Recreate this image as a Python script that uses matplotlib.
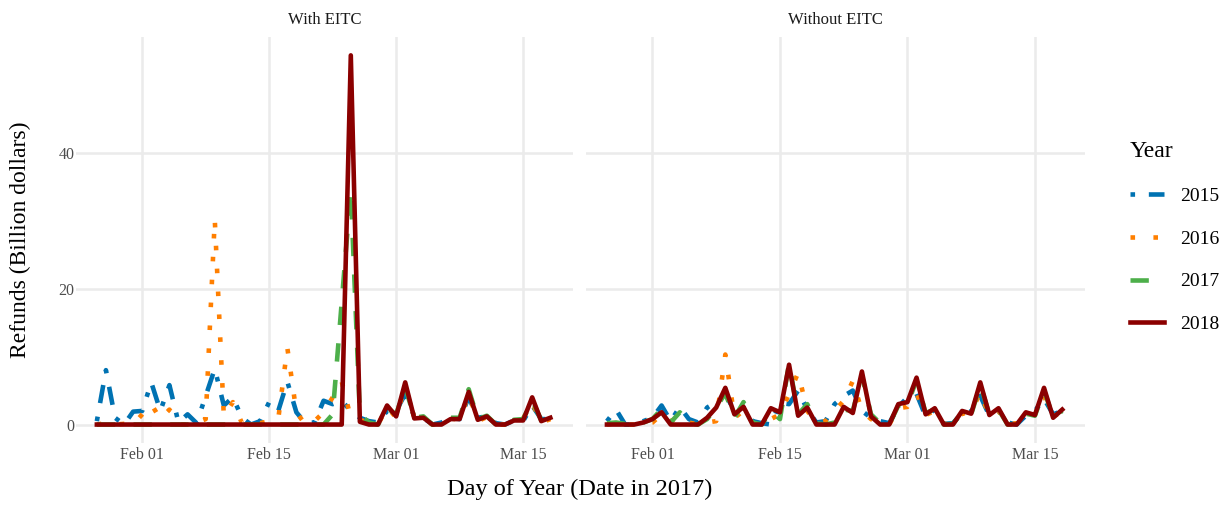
import numpy as np
import pandas as pd
import matplotlib
matplotlib.use("Agg")
import matplotlib.pyplot as plt
import matplotlib.dates as mdates
from matplotlib.lines import Line2D

plt.rcParams['font.family'] = ['Liberation Serif', 'DejaVu Serif']

# daily refunds, aligned on the 2017 calendar (Jan 27 .. Mar 18)
days = pd.date_range('2017-01-27', '2017-03-18', freq='D')
years = ['2015', '2016', '2017', '2018']

# With EITC (billion dollars)
eitc_2015 = [0.5, 8.0, 1.0, 0.0, 1.9, 2.0, 6.2, 2.0, 5.8, 0.3,
             1.5, 0.2, 4.2, 8.2, 2.8, 4.0, 1.0, 0.0, 0.5, 3.3,
             2.0, 6.3, 1.8, 0.2, 0.3, 3.5, 3.0, 3.5, 2.0, 1.0,
             0.5, 0.3, 2.0, 2.0, 4.5, 1.2, 1.0, 0.0, 0.3, 1.0,
             0.8, 4.0, 1.0, 1.2, 0.2, 0.0, 0.6, 0.5, 2.8, 0.8, 0.8]
eitc_2016 = [0.0, 0.2, 0.0, 0.1, 0.0, 1.5, 3.0, 0.8, 2.2, 0.0,
             0.0, 0.3, 0.8, 30.2, 1.2, 3.3, 0.2, 0.0, 0.2, 0.5,
             0.8, 11.3, 1.8, 0.0, 0.5, 1.8, 4.0, 6.3, 1.0, 0.6,
             0.5, 0.0, 2.6, 1.0, 5.8, 1.0, 0.8, 0.0, 0.1, 0.9,
             0.7, 4.5, 0.5, 1.1, 0.0, 0.0, 0.5, 0.9, 3.2, 0.3, 0.8]
eitc_2017 = [0.0, 0.0, 0.0, 0.0, 0.0, 0.0, 0.0, 0.0, 0.0, 0.0,
             0.0, 0.0, 0.0, 0.0, 0.0, 0.0, 0.0, 0.0, 0.0, 0.0,
             0.0, 0.0, 0.0, 0.0, 0.0, 0.0, 1.5, 18.0, 34.5, 1.5,
             0.3, 0.0, 2.4, 1.5, 5.5, 1.0, 1.2, 0.0, 0.2, 1.0,
             1.0, 5.2, 0.8, 1.3, 0.0, 0.1, 0.7, 0.8, 3.6, 0.6, 0.9]
eitc_2018 = [0.0, 0.0, 0.0, 0.0, 0.0, 0.0, 0.0, 0.0, 0.0, 0.0,
             0.0, 0.0, 0.0, 0.0, 0.0, 0.0, 0.0, 0.0, 0.0, 0.0,
             0.0, 0.0, 0.0, 0.0, 0.0, 0.0, 0.0, 0.0, 54.3, 0.4,
             0.0, 0.0, 2.8, 1.2, 6.2, 0.9, 1.0, 0.0, 0.0, 0.8,
             0.8, 4.8, 0.7, 1.2, 0.0, 0.0, 0.6, 0.6, 4.0, 0.5, 1.0]

# Without EITC (billion dollars)
noeitc_2015 = [0.5, 2.2, 0.0, 0.0, 0.5, 1.0, 2.8, 0.5, 2.6, 0.8,
               0.3, 2.5, 3.3, 4.5, 2.0, 2.5, 0.5, 0.2, 0.0, 3.2,
               3.0, 5.0, 2.2, 0.3, 0.5, 3.0, 4.2, 5.0, 2.0, 1.0,
               0.5, 0.2, 2.6, 4.0, 4.5, 1.2, 2.2, 0.1, 0.2, 1.7,
               1.9, 4.2, 1.3, 2.0, 0.3, 0.0, 1.3, 2.0, 3.8, 1.5, 2.0]
noeitc_2016 = [0.0, 0.2, 0.0, 0.0, 0.2, 0.3, 1.5, 0.5, 1.2, 0.3,
               0.0, 0.3, 0.5, 10.3, 1.0, 2.0, 0.2, 0.0, 0.8, 1.5,
               4.5, 7.6, 2.0, 0.3, 0.5, 2.0, 3.5, 6.4, 2.0, 0.8,
               0.2, 0.0, 2.4, 2.6, 4.6, 1.4, 2.0, 0.1, 0.0, 1.6,
               1.8, 4.8, 1.2, 2.0, 0.0, 0.2, 1.5, 1.5, 4.2, 1.2, 1.8]
noeitc_2017 = [0.2, 0.3, 0.1, 0.0, 0.3, 0.8, 2.3, 0.3, 1.8, 0.2,
               0.0, 0.8, 2.5, 4.6, 1.0, 3.3, 0.3, 0.0, 2.0, 0.8,
               9.0, 1.5, 3.0, 0.2, 0.0, 0.3, 2.2, 2.0, 7.2, 1.5,
               0.2, 0.0, 2.8, 3.0, 6.5, 1.7, 2.2, 0.0, 0.1, 1.8,
               1.5, 5.8, 1.5, 2.2, 0.0, 0.1, 1.6, 1.3, 5.0, 1.1, 2.0]
noeitc_2018 = [0.0, 0.0, 0.0, 0.0, 0.3, 0.8, 1.8, 0.0, 0.0, 0.0,
               0.0, 1.0, 2.5, 5.4, 1.5, 2.6, 0.0, 0.0, 2.4, 1.8,
               8.8, 1.3, 2.5, 0.0, 0.0, 0.0, 2.6, 1.7, 7.8, 1.2,
               0.0, 0.0, 3.0, 3.3, 6.9, 1.5, 2.4, 0.0, 0.0, 2.0,
               1.6, 6.2, 1.4, 2.4, 0.0, 0.0, 1.8, 1.4, 5.4, 1.0, 2.2]

panels = [('With EITC', [eitc_2015, eitc_2016, eitc_2017, eitc_2018]),
          ('Without EITC', [noeitc_2015, noeitc_2016, noeitc_2017, noeitc_2018])]

colors = ['#0072B2', '#FF7F00', '#4DAF4A', '#8B0000']
styles = [(0, (1, 3, 4, 3)), (0, (1, 4)), (0, (4, 4)), '-']
lw = 3.3

W, H = 1226, 505
def box(l, t, r, b):
    return [l / W, 1 - b / H, (r - l) / W, (b - t) / H]

fig = plt.figure(figsize=(W / 100, H / 100), dpi=100)
ax1 = fig.add_axes(box(76, 37, 573, 443))
ax2 = fig.add_axes(box(586, 37, 1085, 443))

x0 = days[0] - pd.Timedelta(days=2.3)
x1 = days[-1] + pd.Timedelta(days=2.5)
ticks = pd.to_datetime(['2017-02-01', '2017-02-15', '2017-03-01', '2017-03-15'])

for ax, (title, series) in zip([ax1, ax2], panels):
    for vals, c, ls in zip(series, colors, styles):
        ax.plot(days, vals, color=c, linestyle=ls, lw=lw,
                dash_capstyle='butt', solid_joinstyle='round')
    ax.set_xlim(x0, x1)
    ax.set_ylim(-2.715, 57.0)
    ax.set_yticks([0, 20, 40])
    ax.set_xticks(ticks)
    ax.xaxis.set_major_formatter(mdates.DateFormatter('%b %d'))
    ax.grid(True, color='#EBEBEB', lw=1.8)
    ax.set_axisbelow(True)
    for s in ax.spines.values():
        s.set_visible(False)
    ax.tick_params(length=0, labelsize=11.5, labelcolor='#4D4D4D', pad=3)
    ax.tick_params(axis='y', pad=1)
    ax.set_title(title, fontsize=12, color='#1A1A1A', pad=9)

ax2.tick_params(labelleft=False)

fig.text(579.5 / W, 1 - 489 / H, 'Day of Year (Date in 2017)', ha='center', va='center',
         fontsize=17.5, color='black')
fig.text(20 / W, 1 - 240 / H, 'Refunds (Billion dollars)', ha='center', va='center',
         rotation=90, fontsize=17, color='black')

handles = [Line2D([], [], color=c, linestyle=ls, lw=lw, dash_capstyle='butt')
           for c, ls in zip(colors, styles)]
leg = fig.legend(handles, years, title='Year', loc='center left',
                 bbox_to_anchor=(1112 / W, 1 - 237 / H), frameon=False,
                 fontsize=14, title_fontsize=17, handlelength=1.75,
                 handletextpad=0.85, labelspacing=1.3, alignment='left')

fig.savefig('out.png', dpi=100)
